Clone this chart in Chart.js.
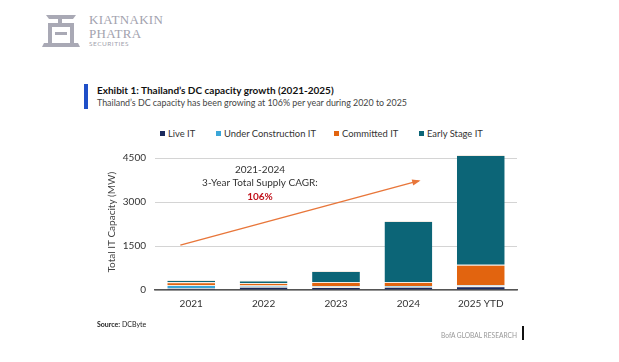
<!DOCTYPE html>
<html>
<head>
<meta charset="utf-8">
<script src="https://cdn.jsdelivr.net/npm/chart.js@4"></script>
<style>
  body { margin: 0; background: #fff; font-family: Lato, sans-serif; }
  #wrap { position: relative; width: 619px; height: 362px; overflow: hidden; }
  #chart { position: absolute; left: 0; top: 0; }
  .abs { position: absolute; white-space: nowrap; }
  .logo-txt { font-family: "Liberation Serif", serif; color: #a2a2ae; letter-spacing: 0.3px; }
  .legend-item { position: absolute; top: 128px; font-size: 9.4px; color: #333; }
  .legend-item span.box { display: inline-block; width: 5px; height: 5px; margin-right: 3px; vertical-align: 1px; }
</style>
</head>
<body>
<div id="wrap">
  <svg class="abs" style="left:40px;top:12px" width="42" height="38" viewBox="0 0 42 38">
    <path d="M6 3 L36 3 L33 7 L22 7 L22 11 L34 11 L34 31 L38 31 L40 35 L2 35 L4 31 L8 31 L8 11 L18 11 L18 7 L9 7 Z" fill="#a9a9b5"/>
    <path d="M12 15 L30 15 L30 31 L12 31 Z" fill="#fff"/>
    <path d="M15 20 L27 20 L27 23 L15 23 Z" fill="#a9a9b5"/>
  </svg>
  <div class="abs logo-txt" style="left:89px;top:12px;font-size:13px">KIATNAKIN</div>
  <div class="abs logo-txt" style="left:89px;top:26px;font-size:13px">PHATRA</div>
  <div class="abs" style="left:89px;top:40px;font-size:6.5px;color:#a2a2ae;letter-spacing:0.5px">SECURITIES</div>

  <div class="abs" style="left:84px;top:84px;width:4px;height:25px;background:#1f4fc8"></div>
  <div class="abs" style="left:97px;top:84px;font-size:10px;font-weight:bold;color:#111">Exhibit 1: Thailand’s DC capacity growth (2021-2025)</div>
  <div class="abs" style="left:97px;top:97px;font-size:8.9px;color:#444">Thailand’s DC capacity has been growing at 106% per year during 2020 to 2025</div>

  <div id="legend"></div>

  <canvas id="chart" width="619" height="362"></canvas>

  <div class="abs" style="left:97px;top:320px;font-size:7px;color:#222"><b>Source:</b> DCByte</div>
  <div class="abs" style="left:441px;top:331px;font-size:6.6px;color:#999">BofA GLOBAL RESEARCH</div>
  <div class="abs" style="left:522px;top:326px;width:2px;height:14px;background:#111"></div>
</div>
<script>
const categories = ['2021', '2022', '2023', '2024', '2025 YTD'];
const liveIT = [60, 110, 100, 110, 130];
const underConstructionIT = [110, 40, 30, 30, 30];
const committedIT = [90, 90, 140, 130, 700];
const earlyStageIT = [80, 80, 380, 2080, 3740];
const yTicks = [0, 1500, 3000, 4500];

const seriesNames = ['Live IT', 'Under Construction IT', 'Committed IT', 'Early Stage IT'];
const seriesColors = ['#1b2a5e', '#3aa6d8', '#e2640f', '#0c6577'];
const legendX = [160, 216, 334, 419];

// legend in html
const legend = document.getElementById('legend');
seriesNames.forEach((name, i) => {
  const d = document.createElement('div');
  d.className = 'legend-item';
  d.style.left = legendX[i] + 'px';
  d.innerHTML = '<span class="box" style="background:' + seriesColors[i] + '"></span>' + name;
  legend.appendChild(d);
});

// CAGR arrow + note
const arrowFrom = { x: -0.15, y: 1530 };
const arrowTo = { x: 3.14, y: 3720 };
const noteAt = 0.95;

const arrowPlugin = {
  id: 'arrow',
  afterDatasetsDraw(chart) {
    const { ctx, scales: { x, y } } = chart;
    const x1 = x.getPixelForValue(arrowFrom.x), y1 = y.getPixelForValue(arrowFrom.y);
    const x2 = x.getPixelForValue(arrowTo.x), y2 = y.getPixelForValue(arrowTo.y);
    ctx.save();
    ctx.strokeStyle = '#e8763a';
    ctx.fillStyle = '#e8763a';
    ctx.lineWidth = 1.5;
    ctx.beginPath();
    ctx.moveTo(x1, y1);
    ctx.lineTo(x2, y2);
    ctx.stroke();
    const a = Math.atan2(y2 - y1, x2 - x1);
    ctx.beginPath();
    ctx.moveTo(x2 + 2, y2 - 0.5);
    ctx.lineTo(x2 - 7 * Math.cos(a - 0.45), y2 - 7 * Math.sin(a - 0.45));
    ctx.lineTo(x2 - 7 * Math.cos(a + 0.45), y2 - 7 * Math.sin(a + 0.45));
    ctx.closePath();
    ctx.fill();

    const cx = x.getPixelForValue(noteAt);
    ctx.textAlign = 'center';
    ctx.textBaseline = 'middle';
    ctx.fillStyle = '#333';
    ctx.font = '10px Lato';
    ctx.fillText('2021-2024', cx, y.getPixelForValue(4090));
    ctx.fillText('3-Year Total Supply CAGR:', cx, y.getPixelForValue(3650));
    ctx.fillStyle = '#c0101a';
    ctx.font = 'bold 10px Lato';
    ctx.fillText('106%', cx, y.getPixelForValue(3190));
    ctx.restore();
  }
};

const seriesData = [liveIT, underConstructionIT, committedIT, earlyStageIT];

new Chart(document.getElementById('chart'), {
  type: 'bar',
  data: {
    labels: categories,
    datasets: seriesData.map((d, i) => ({
      label: seriesNames[i],
      data: d,
      backgroundColor: seriesColors[i],
      borderColor: '#f4ece4',
      borderWidth: { top: 1, left: 0, right: 0, bottom: 0 },
      borderSkipped: false,
      barPercentage: 0.66,
      categoryPercentage: 1
    }))
  },
  options: {
    responsive: false,
    animation: false,
    layout: { padding: { left: 106, right: 102, top: 154.5, bottom: 47 } },
    plugins: { legend: { display: false }, tooltip: { enabled: false } },
    scales: {
      x: {
        stacked: true,
        grid: { display: false, drawTicks: false },
        border: { color: '#555', width: 1.5 },
        ticks: { color: '#333', font: { family: 'Lato', size: 10 }, padding: 8 },
        afterFit(s) { s.height = 25; }
      },
      y: {
        stacked: true,
        min: 0,
        max: 4620,
        afterBuildTicks(s) { s.ticks = yTicks.map(v => ({ value: v })); },
        grid: { color: '#d4d4d4', drawTicks: false },
        border: { display: false },
        ticks: { color: '#333', font: { family: 'Lato', size: 10 }, padding: 9, callback: v => String(v) },
        title: { display: true, text: 'Total IT Capacity (MW)', color: '#444', font: { family: 'Lato', size: 10 }, padding: 0 },
        afterFit(s) { s.width = 49; }
      }
    }
  },
  plugins: [arrowPlugin]
});
</script>
</body>
</html>
